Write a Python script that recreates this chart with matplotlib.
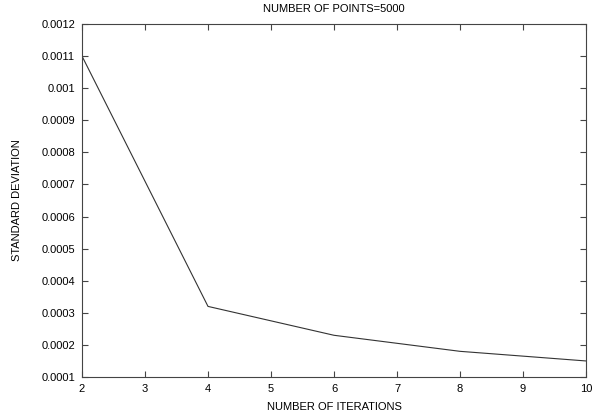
import matplotlib
matplotlib.use("Agg")
import matplotlib.pyplot as plt
from matplotlib.ticker import MultipleLocator, FuncFormatter

iterations = [2, 4, 6, 8, 10]
std_dev = [0.0011, 0.00032, 0.00023, 0.00018, 0.00015]

plt.rcParams["font.family"] = ["Liberation Sans", "DejaVu Sans"]

fig = plt.figure(figsize=(5.92, 4.2), dpi=100)
# axes box placed to match the gnuplot layout (pixels -> fractions)
ax = fig.add_axes([82 / 592, 1 - 377 / 420, (586 - 82) / 592, (377 - 24) / 420])

ax.plot(iterations, std_dev, color="#333333", linewidth=0.8)

ax.set_xlim(2, 10)
ax.set_ylim(0.0001, 0.0012)
ax.xaxis.set_major_locator(MultipleLocator(1))
ax.yaxis.set_major_locator(MultipleLocator(0.0001))

def fmt_y(v, pos):
    s = f"{v:.4f}".rstrip("0").rstrip(".")
    return s

ax.yaxis.set_major_formatter(FuncFormatter(fmt_y))
ax.tick_params(direction="in", length=4, width=0.8, color="#444444",
               top=True, right=True, labelsize=8, pad=5)
for sp in ax.spines.values():
    sp.set_color("#444444")
    sp.set_linewidth(0.8)

ax.set_title("NUMBER OF POINTS=5000", fontsize=8, pad=9)
ax.set_xlabel("NUMBER OF ITERATIONS", fontsize=8, labelpad=6)
ax.set_ylabel("STANDARD DEVIATION", fontsize=8, labelpad=14)

fig.savefig("out.png", dpi=100)
